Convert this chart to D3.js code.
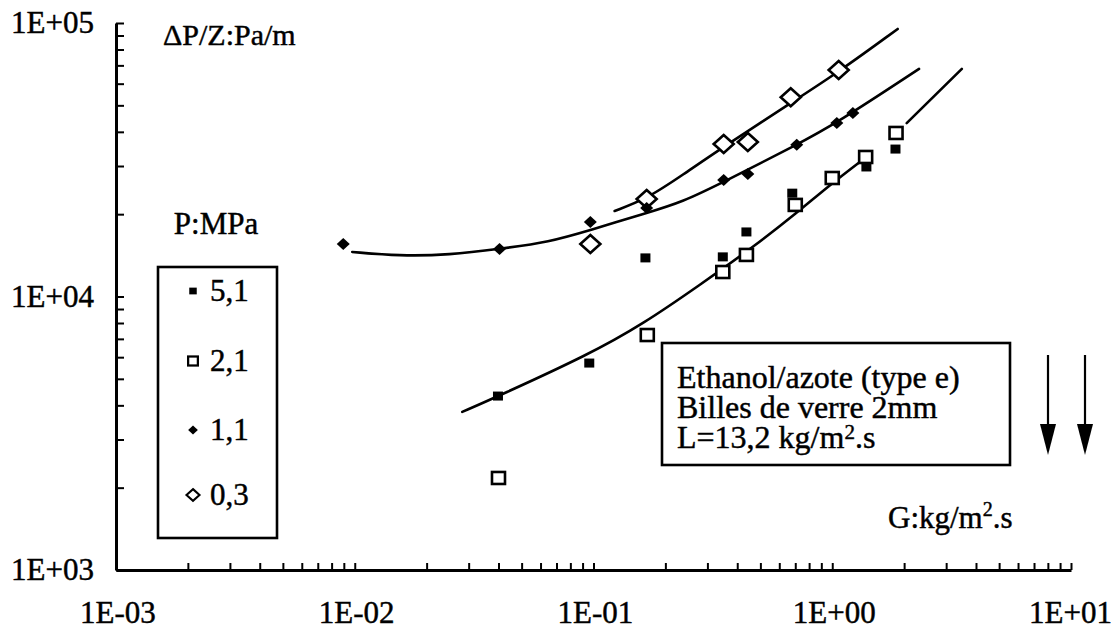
<!DOCTYPE html>
<html><head><meta charset="utf-8">
<script src="https://cdn.jsdelivr.net/npm/d3@7"></script>
<style>body{margin:0;background:#fff}svg{display:block}</style>
</head><body><svg id="c" width="1115" height="635"></svg>
<script>
// ---------- data ----------
const xTickValues = [1e-3, 1e-2, 1e-1, 1, 10];
const xTickLabels = ["1E-03", "1E-02", "1E-01", "1E+00", "1E+01"];
const yTickValues = [1e3, 1e4, 1e5];
const yTickLabels = ["1E+03", "1E+04", "1E+05"];

const legendTitle = "P:MPa";
const seriesNames = ["5,1", "2,1", "1,1", "0,3"];

// P = 5,1 MPa (filled squares)
const g51 = [0.0398, 0.096, 0.165, 0.348, 0.437, 0.68, 1.39, 1.84];
const p51 = [4325, 5710, 13840, 13960, 17220, 23870, 29760, 34600];
// P = 2,1 MPa (open squares)
const g21 = [0.040, 0.168, 0.348, 0.437, 0.70, 1.00, 1.38, 1.85];
const p21 = [2170, 7230, 12290, 14190, 21620, 27120, 32370, 39620];
// P = 1,1 MPa (filled diamonds)
const g11 = [0.00895, 0.0404, 0.097, 0.167, 0.351, 0.443, 0.71, 1.045, 1.22];
const p11 = [15560, 14920, 18710, 21070, 26680, 28040, 35850, 43070, 46870];
// P = 0,3 MPa (open diamonds)
const g03 = [0.097, 0.167, 0.351, 0.443, 0.67, 1.064];
const p03 = [15560, 22730, 36100, 36700, 53550, 67300];

// fitted curves drawn on the chart
const fitHighG1 = [0.0282, 0.040, 0.096, 0.160, 0.278, 0.473, 0.71, 0.976, 1.39];
const fitHighP1 = [3785, 4325, 6150, 7900, 11000, 15300, 20200, 25570, 32370];
const fitHighG2 = [2.05, 3.49];
const fitHighP2 = [43050, 68000];
const fit11G = [0.00976, 0.0154, 0.0249, 0.0404, 0.0654, 0.097, 0.167, 0.236, 0.351, 0.71, 1.045, 2.31];
const fit11P = [14550, 14060, 14190, 14920, 15820, 17500, 20200, 22160, 26250, 35850, 43070, 67950];
const fit03G = [0.1226, 0.167, 0.236, 0.351, 0.67, 1.064, 1.88];
const fit03P = [20550, 22730, 27810, 35280, 50980, 66190, 95100];

const yAxisTitle = "\u0394P/Z:Pa/m";
const xAxisTitle = ["G:kg/m", "2", ".s"];
const infoLines = ["Ethanol/azote (type e)", "Billes de verre 2mm"];
const infoLine3 = ["L=13,2 kg/m", "2", ".s"];

// ---------- drawing ----------
const svg = d3.select("#c");
const FONT = "'Liberation Serif', 'Times New Roman', serif";

const x = d3.scaleLog().domain([1e-3, 10]).range([116, 1071]);
const y = d3.scaleLog().domain([1e3, 1e5]).range([570, 23]);

function minorTicks(lo, hi) {
  const out = [];
  for (let d = lo; d < hi * 0.999; d *= 10) for (let k = 1; k <= 9; k++) out.push(k * d);
  out.push(hi);
  return out;
}

// axes
const xAxis = d3.axisBottom(x).tickValues(minorTicks(1e-3, 10)).tickSizeInner(-7).tickSizeOuter(0).tickFormat("");
const yAxis = d3.axisLeft(y).tickValues(minorTicks(1e3, 1e5)).tickSizeInner(-8).tickSizeOuter(0).tickFormat("");
const gx = svg.append("g").attr("transform", "translate(0,570)").call(xAxis);
const gy = svg.append("g").attr("transform", "translate(116,0)").call(yAxis);
[gx, gy].forEach(g => {
  g.select(".domain").attr("stroke", "#000").attr("stroke-width", 3);
  g.selectAll(".tick line").attr("stroke", "#000").attr("stroke-width", 2);
});

function stext(px, py, str, size, anchor) {
  return svg.append("text").attr("x", px).attr("y", py).attr("text-anchor", anchor || "start")
    .attr("font-family", FONT).attr("font-size", size).attr("fill", "#000")
    .attr("stroke", "#000").attr("stroke-width", 0.45).text(str);
}

// tick labels
xTickValues.forEach((v, i) => {
  const t = stext(x(v) + 2, 623, xTickLabels[i], 31, "middle");
  const bb = t.node().getBBox();
  if (bb.x + bb.width > 1112) t.attr("x", x(v) + 2 - (bb.x + bb.width - 1112));
});
yTickValues.forEach((v, i) => stext(94, y(v) + 10, yTickLabels[i], 31, "end"));

// axis titles
stext(163, 45, yAxisTitle, 30, "start");
{
  const t = stext(888, 528, xAxisTitle[0], 31, "start");
  t.append("tspan").attr("font-size", 20).attr("dy", -12).text(xAxisTitle[1]);
  t.append("tspan").attr("dy", 12).text(xAxisTitle[2]);
}

// fitted curves
const line = d3.line().x(d => x(d[0])).y(d => y(d[1])).curve(d3.curveBasis);
const curves = [
  d3.zip(fitHighG1, fitHighP1), d3.zip(fitHighG2, fitHighP2),
  d3.zip(fit11G, fit11P), d3.zip(fit03G, fit03P)
];
svg.append("g").selectAll("path").data(curves).join("path")
  .attr("d", line).attr("fill", "none").attr("stroke", "#000")
  .attr("stroke-width", 2.6).attr("stroke-linecap", "round");

// marker shapes
function drawMarker(g, type, cx, cy, s) {
  if (type === "fsq") {
    g.append("rect").attr("x", cx - 5 * s).attr("y", cy - 4.5 * s).attr("width", 10 * s).attr("height", 9 * s).attr("fill", "#000");
  } else if (type === "osq") {
    g.append("rect").attr("x", cx - 6.5 * s).attr("y", cy - 6 * s).attr("width", 13 * s).attr("height", 12 * s)
      .attr("fill", "#fff").attr("stroke", "#000").attr("stroke-width", 2.6 * Math.sqrt(s));
  } else if (type === "fdi") {
    const w = 6.5 * s, h = 6 * s;
    g.append("path").attr("d", `M${cx},${cy - h}L${cx + w},${cy}L${cx},${cy + h}L${cx - w},${cy}Z`).attr("fill", "#000");
  } else if (type === "odi") {
    const w = 10 * s, h = 9 * s;
    g.append("path").attr("d", `M${cx},${cy - h}L${cx + w},${cy}L${cx},${cy + h}L${cx - w},${cy}Z`)
      .attr("fill", "#fff").attr("stroke", "#000").attr("stroke-width", 2.6 * Math.sqrt(s));
  }
}

const series = [
  { g: g51, p: p51, type: "fsq" },
  { g: g21, p: p21, type: "osq" },
  { g: g11, p: p11, type: "fdi" },
  { g: g03, p: p03, type: "odi" }
];
const mk = svg.append("g");
[series[1], series[3], series[0], series[2]].forEach(s => {
  s.g.forEach((gv, i) => drawMarker(mk, s.type, x(gv), y(s.p[i]), 1));
});

// legend
stext(216, 234, legendTitle, 31, "middle");
svg.append("rect").attr("x", 158).attr("y", 267).attr("width", 119).attr("height", 271)
  .attr("fill", "none").attr("stroke", "#000").attr("stroke-width", 2.6);
const legY = [291, 361, 430, 495];
const legTypes = ["fsq", "osq", "fdi", "odi"];
const lg = svg.append("g");
seriesNames.forEach((n, i) => {
  drawMarker(lg, legTypes[i], 193, legY[i], i === 3 ? 0.65 : 0.75);
  stext(210, legY[i] + 10, n, 31, "start");
});

// info box
svg.append("rect").attr("x", 662).attr("y", 343).attr("width", 348).attr("height", 122)
  .attr("fill", "none").attr("stroke", "#000").attr("stroke-width", 2.6);
stext(677, 388, infoLines[0], 32, "start");
stext(677, 418, infoLines[1], 32, "start");
{
  const t = stext(677, 448, infoLine3[0], 32, "start");
  t.append("tspan").attr("font-size", 21).attr("dy", -9).text(infoLine3[1]);
  t.append("tspan").attr("dy", 9).text(infoLine3[2]);
}

// arrows
[1048, 1085].forEach(ax => {
  svg.append("line").attr("x1", ax).attr("x2", ax).attr("y1", 355).attr("y2", 430)
    .attr("stroke", "#000").attr("stroke-width", 2.2);
  svg.append("path").attr("d", `M${ax - 8},${424}L${ax + 8},${424}L${ax},${455}Z`).attr("fill", "#000");
});
</script></body></html>
